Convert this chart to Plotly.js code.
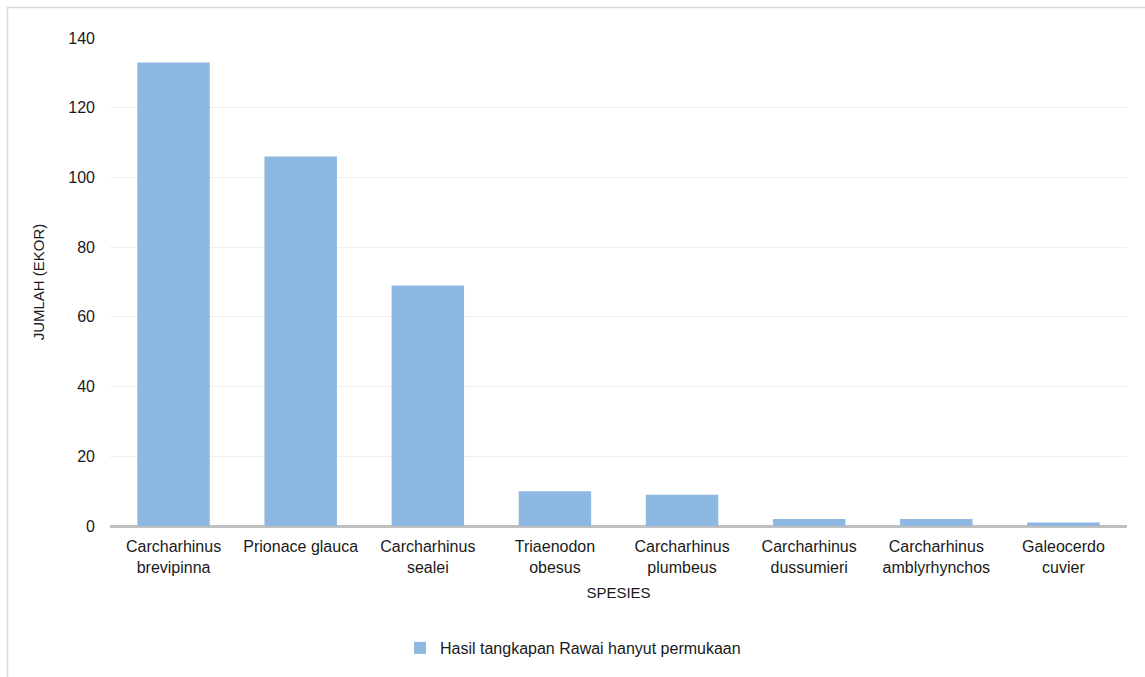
<!DOCTYPE html>
<html>
<head>
<meta charset="utf-8">
<script src="https://cdn.plot.ly/plotly-3.0.1.min.js"></script>
<style>
html,body{margin:0;padding:0;background:#fff;}
#chart{width:1145px;height:677px;}
</style>
</head>
<body>
<div id="chart"></div>
<script>
const categories = [
  "Carcharhinus<br>brevipinna",
  "Prionace glauca",
  "Carcharhinus<br>sealei",
  "Triaenodon<br>obesus",
  "Carcharhinus<br>plumbeus",
  "Carcharhinus<br>dussumieri",
  "Carcharhinus<br>amblyrhynchos",
  "Galeocerdo<br>cuvier"
];
const values = [133, 106, 69, 10, 9, 2, 2, 1];
const seriesName = "Hasil tangkapan Rawai hanyut permukaan";
const yTicks = [0, 20, 40, 60, 80, 100, 120, 140];

const L = 110, R = 18, T = 38, B = 151, W = 1145, H = 677;
const pw = W - L - R, ph = H - T - B;

const trace = {
  type: 'bar',
  x: categories,
  y: values,
  name: seriesName,
  marker: {color: '#8db8e1'},
  showlegend: true
};

const layout = {
  width: W, height: H,
  margin: {l: L, r: R, t: T, b: B, pad: 0},
  paper_bgcolor: '#fff',
  plot_bgcolor: '#fff',
  font: {family: '"Liberation Sans", Arial, sans-serif', size: 16, color: '#1a1a1a'},
  bargap: 0.43,
  xaxis: {
    type: 'category',
    showgrid: false,
    showline: false,
    ticks: '',
    ticklabelstandoff: 9,
    tickfont: {size: 16, color: '#1a1a1a'},
    title: {text: 'SPESIES', font: {size: 15, color: '#1a1a1a'}, standoff: 12},
    automargin: false
  },
  yaxis: {
    range: [0, 140],
    tickvals: yTicks,
    ticktext: yTicks.map(String),
    showgrid: true,
    gridcolor: '#eeeeee',
    gridwidth: 1,
    zeroline: true,
    zerolinecolor: '#bfbfbf',
    zerolinewidth: 3,
    ticks: '',
    ticklabelstandoff: 14,
    tickfont: {size: 16, color: '#1a1a1a'},
    title: {text: 'JUMLAH (EKOR)', font: {size: 15, color: '#1a1a1a'}, standoff: 20},
    automargin: false
  },
  legend: {
    orientation: 'h',
    x: (400 - L) / pw,
    xanchor: 'left',
    y: -(648 - T - ph) / ph,
    yanchor: 'middle',
    font: {size: 16, color: '#1a1a1a'},
    itemwidth: 30
  },
  shapes: [{
    type: 'rect', xref: 'paper', yref: 'paper',
    x0: (7.5 - L) / pw, x1: (W + 5 - L) / pw,
    y0: 1 - (H + 5 - T) / ph, y1: 1 + (T - 7.5) / ph,
    line: {color: '#d9d9d9', width: 1.5},
    fillcolor: 'rgba(0,0,0,0)',
    layer: 'below'
  }]
};

Plotly.newPlot('chart', [trace], layout, {displayModeBar: false, staticPlot: true});
</script>
</body>
</html>
